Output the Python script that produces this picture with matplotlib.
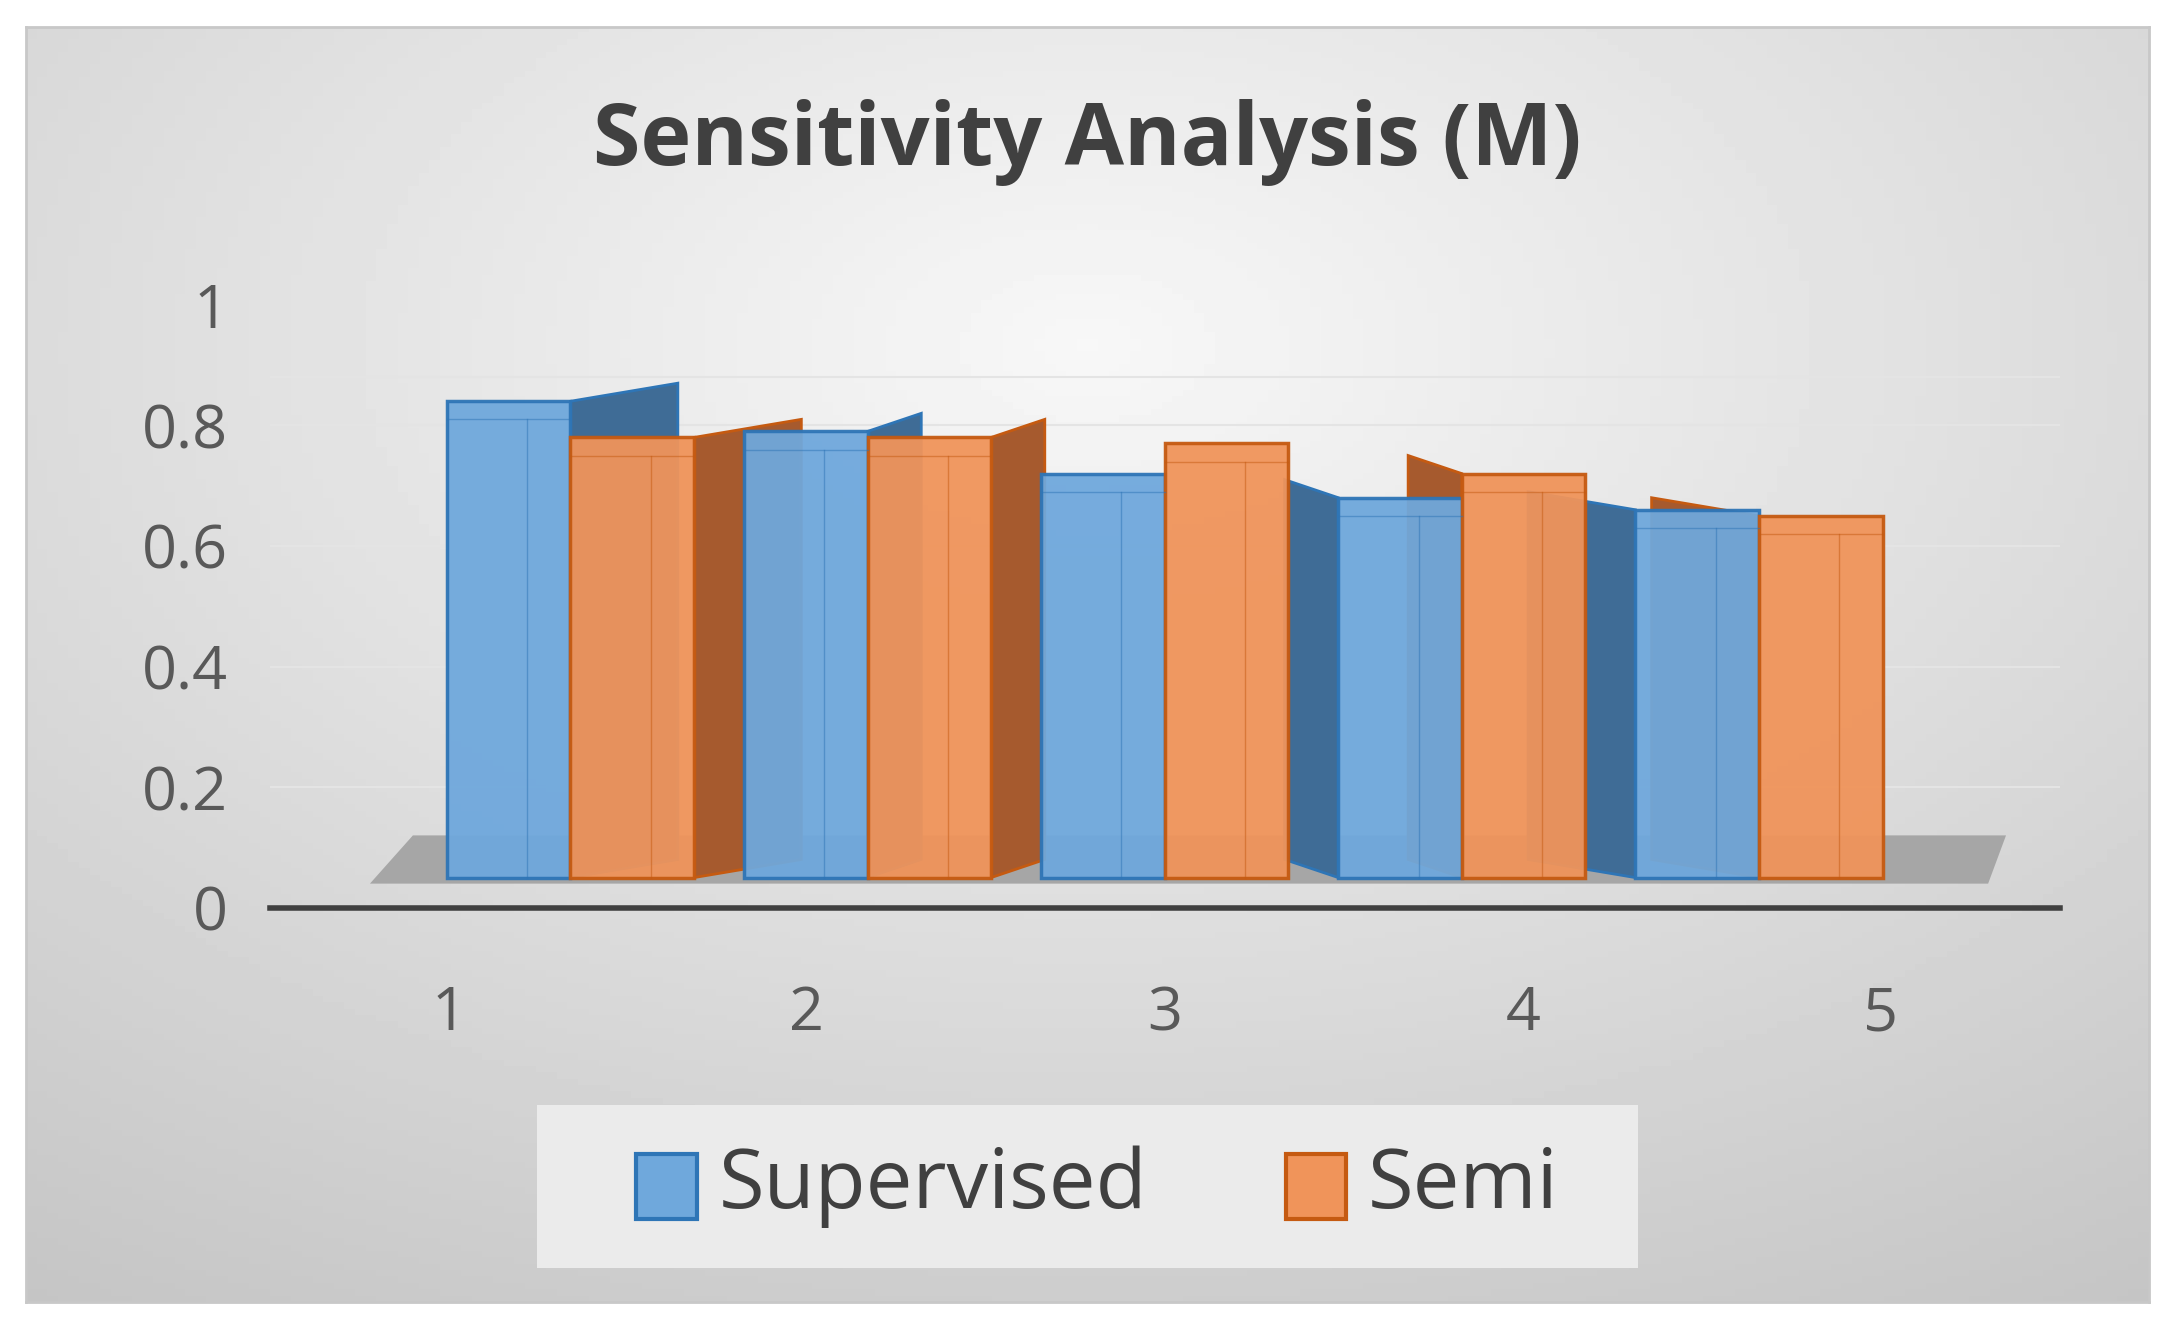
import numpy as np
import matplotlib.pyplot as plt
from matplotlib.patches import Polygon, Rectangle

categories = ['1', '2', '3', '4', '5']
supervised = [0.84, 0.79, 0.72, 0.68, 0.66]
semi = [0.78, 0.78, 0.77, 0.72, 0.65]

plt.rcParams['font.family'] = ['Open Sans', 'DejaVu Sans']

fig = plt.figure(figsize=(21.75, 13.31), dpi=100)
fig.patch.set_facecolor('white')

# gradient background with border
bg = fig.add_axes([0.012, 0.022, 0.976, 0.958])
yy, xx = np.mgrid[0:1:200j, 0:1:200j]
r = np.sqrt((xx - 0.5) ** 2 + (yy - 0.75) ** 2)
bg.imshow(0.97 - 0.22 * np.clip(r, 0, 1), cmap='gray', vmin=0, vmax=1,
          extent=[0, 1, 0, 1], aspect='auto', origin='lower')
bg.set_xticks([]); bg.set_yticks([])
for s in bg.spines.values():
    s.set_color('#c8c8c8'); s.set_linewidth(2)

ax = fig.add_axes([0.124, 0.318, 0.823, 0.453])
ax.set_xlim(0.5, 5.5)
ax.set_ylim(0, 1)
ax.patch.set_alpha(0)
for s in ax.spines.values():
    s.set_visible(False)

for v in [0.2, 0.4, 0.6, 0.8]:
    ax.plot([0.5, 5.5], [v, v], color='#e4e4e4', lw=1.5, zorder=0)
ax.plot([0.5, 5.5], [0.88, 0.88], color='#e4e4e4', lw=1.5, zorder=0)

base = 0.05
dy = 0.03
# floor
ax.add_patch(Polygon([[0.78, base - 0.01], [5.3, base - 0.01], [5.35, base + 0.07], [0.9, base + 0.07]],
                     closed=True, facecolor='#a6a6a6', edgecolor='none', zorder=1))
ax.plot([0.5, 5.5], [0, 0], color='#404040', lw=4, zorder=2, clip_on=False)

w = 0.345
x = np.arange(1, 6)
series = [(supervised, -w / 2, '#6fa8dc', '#2e75b6', '#3f6c96'),
          (semi, w / 2, '#f0945a', '#c55a11', '#a65a2e')]
for vals, off, face, edge, side in series:
    for xi, v in zip(x, vals):
        shift = 0.17 * (3 - xi)       # perspective shift toward the centre
        dx = 0.05 * (3 - xi)          # side face seen on right (left) of bar
        x0 = xi + shift + off - w / 2
        if dx > 0:
            ex = x0 + w
        else:
            ex = x0
        if dx != 0:
            ax.add_patch(Polygon([[ex, base], [ex + dx * 3, base + dy],
                                  [ex + dx * 3, v + dy], [ex, v]],
                                 closed=True, facecolor=side, edgecolor=edge, lw=2, zorder=3))
        ax.add_patch(Rectangle((x0, base), w, v - base, facecolor=face, alpha=0.95,
                               edgecolor=edge, lw=2.5, zorder=4))
        # inner back-edge lines to suggest transparency
        ax.plot([x0 + w * 0.65, x0 + w * 0.65], [base, v - 0.03], color=edge, lw=1, alpha=0.5, zorder=5)
        ax.plot([x0, x0 + w], [v - 0.03, v - 0.03], color=edge, lw=1, alpha=0.5, zorder=5)

ax.set_xticks(x)
ax.set_xticklabels(categories)
ax.set_yticks([0, 0.2, 0.4, 0.6, 0.8, 1])
ax.set_yticklabels(['0', '0.2', '0.4', '0.6', '0.8', '1'])
ax.tick_params(length=0, labelsize=44, colors='#595959', pad=30)
ax.tick_params(axis='x', pad=55)

fig.text(0.5, 0.893, 'Sensitivity Analysis (M)', ha='center', va='center',
         fontsize=62, fontweight='bold', color='#404040')

# legend
leg = fig.add_axes([0.247, 0.047, 0.506, 0.123])
leg.set_facecolor('#ebebeb')
leg.set_xlim(0, 1); leg.set_ylim(0, 1)
leg.set_xticks([]); leg.set_yticks([])
for s in leg.spines.values():
    s.set_visible(False)
leg.add_patch(Rectangle((0.09, 0.3), 0.055, 0.4, facecolor='#6fa8dc', edgecolor='#2e75b6', lw=3))
leg.text(0.165, 0.5, 'Supervised', va='center', fontsize=60, color='#404040')
leg.add_patch(Rectangle((0.68, 0.3), 0.055, 0.4, facecolor='#f0945a', edgecolor='#c55a11', lw=3))
leg.text(0.755, 0.5, 'Semi', va='center', fontsize=60, color='#404040')

fig.savefig('out.png', dpi=100)
